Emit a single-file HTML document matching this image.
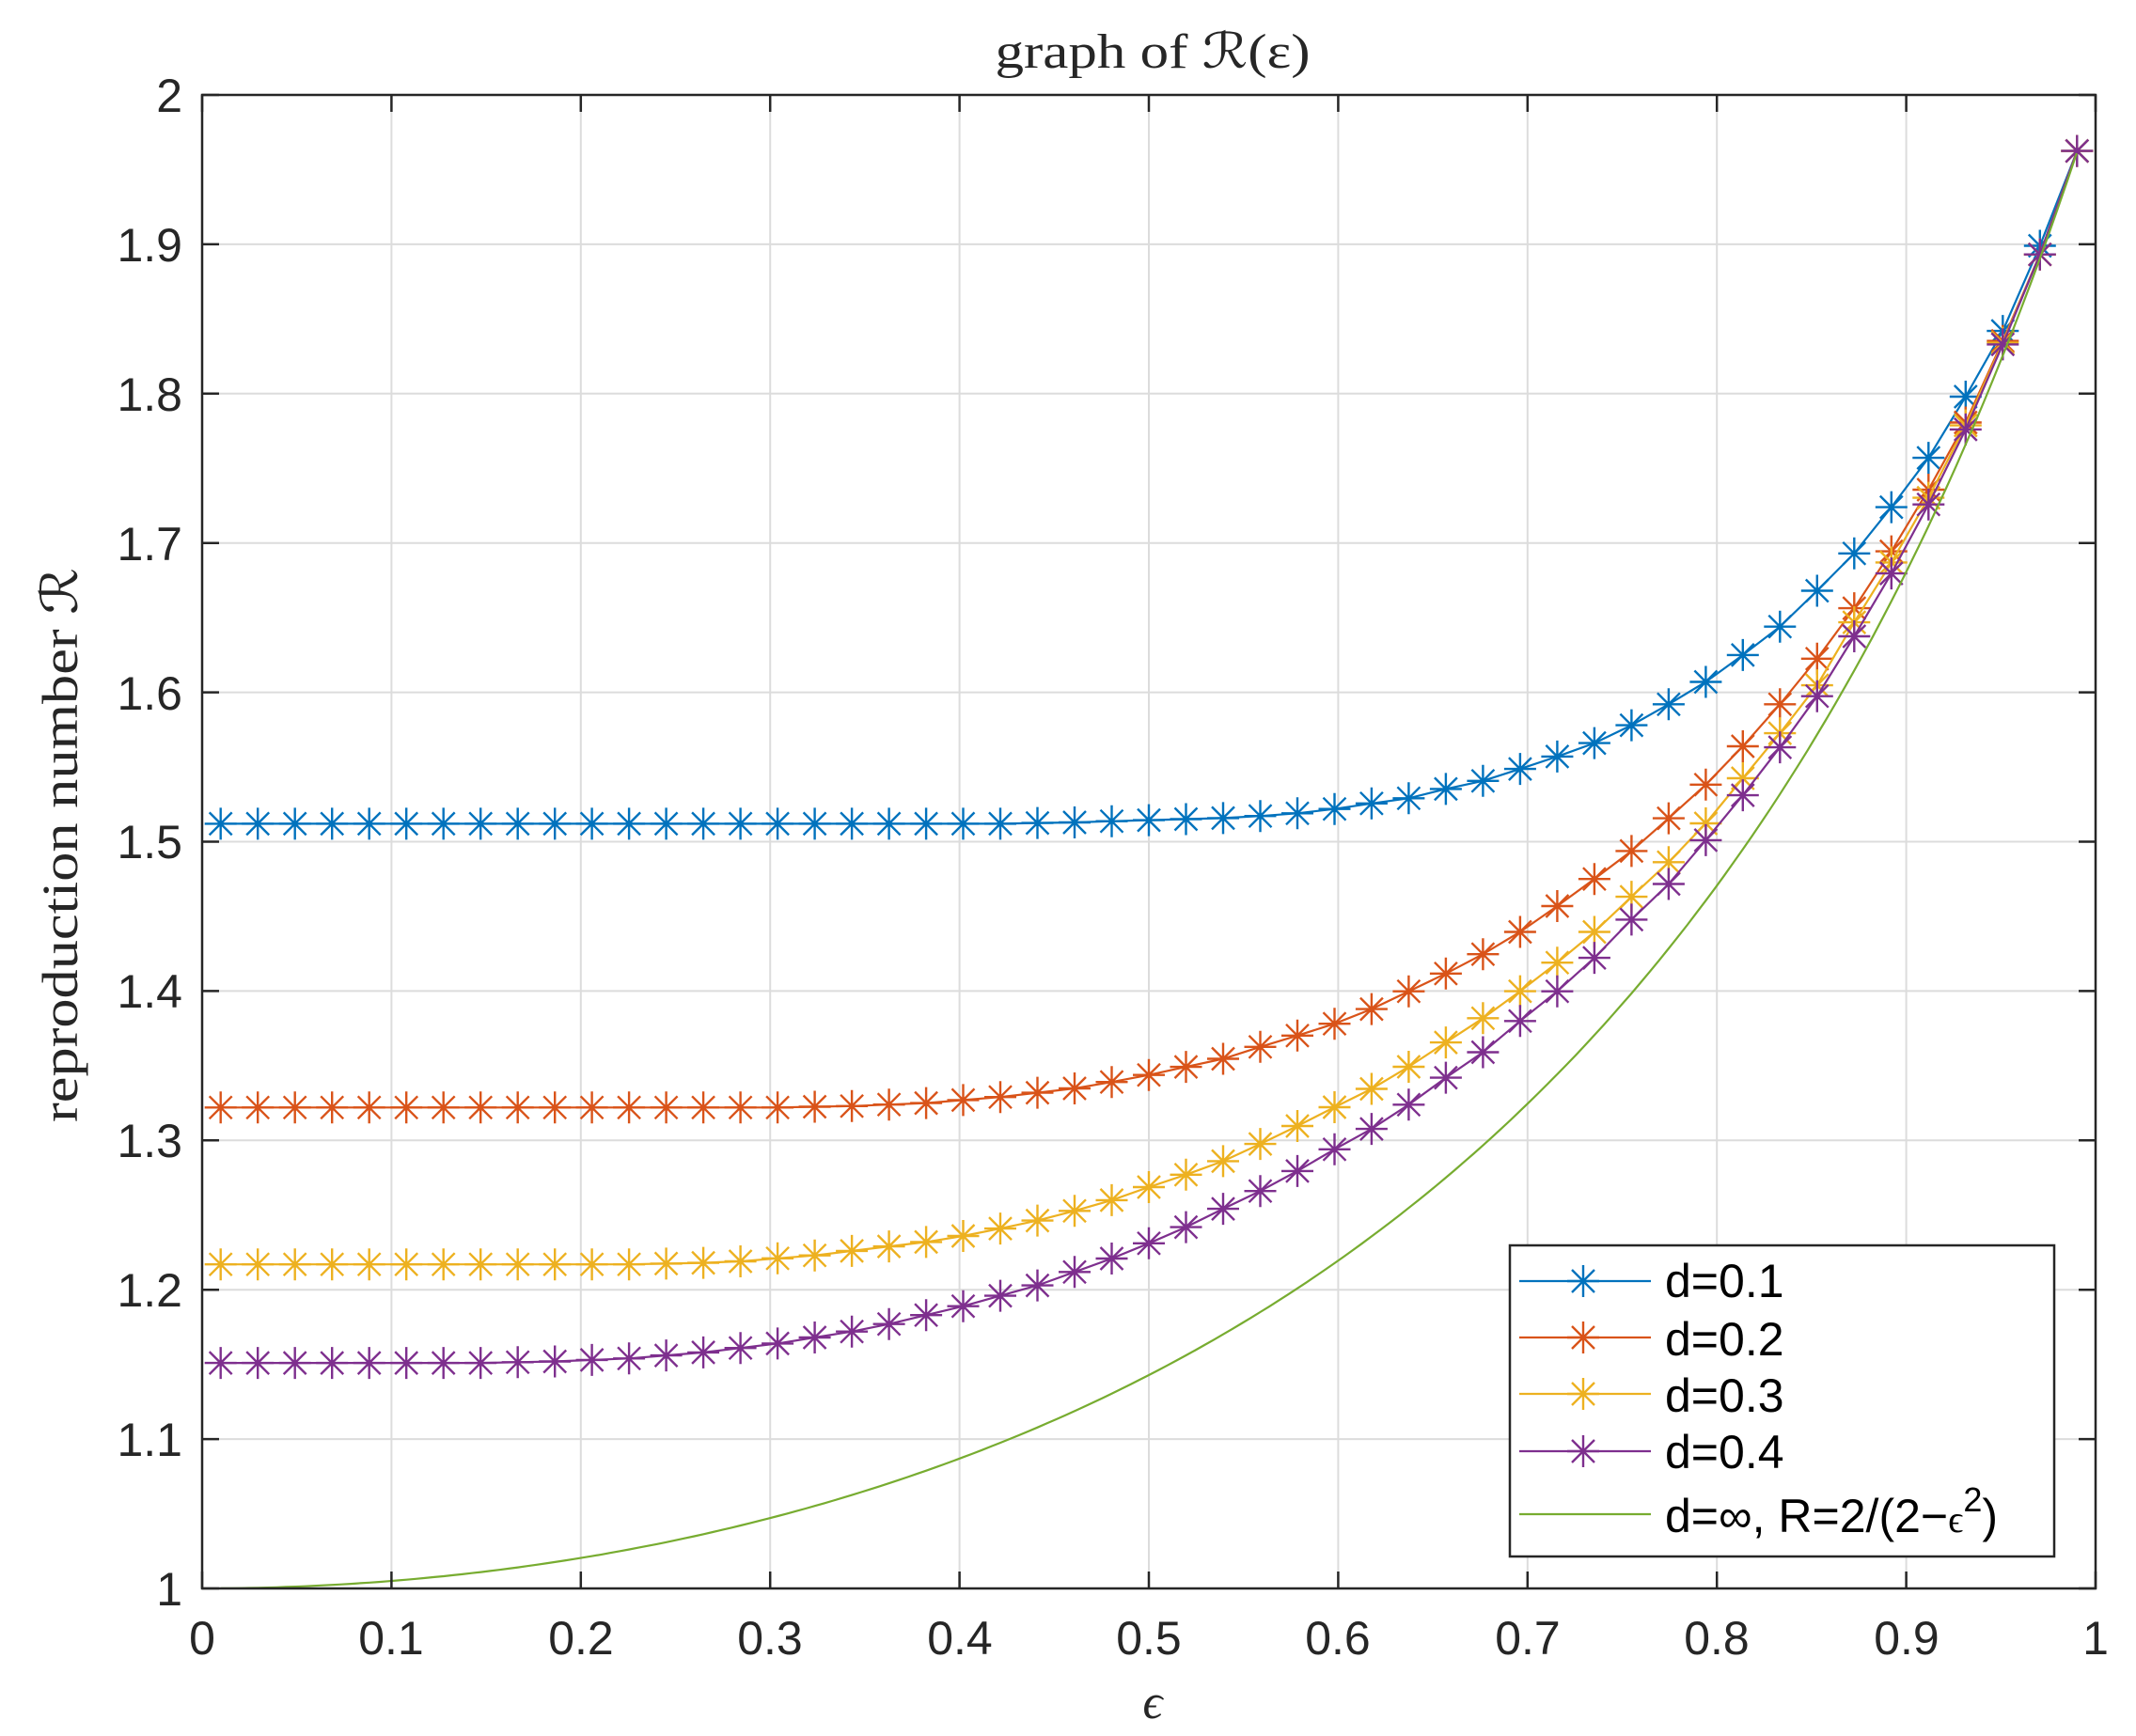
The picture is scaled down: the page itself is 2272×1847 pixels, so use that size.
<!DOCTYPE html>
<html><head><meta charset="utf-8">
<style>
html,body{margin:0;padding:0;background:#fff;}
svg{display:block;}
.tk{font-family:"Liberation Sans",sans-serif;font-size:50px;fill:#262626;}
.lg{font-family:"Liberation Sans","DejaVu Sans",sans-serif;font-size:50px;fill:#000;}
.sr{font-family:"Liberation Serif","DejaVu Serif",serif;fill:#262626;}
</style></head><body>
<svg id="s" width="2272" height="1847" viewBox="0 0 2272 1847" xmlns="http://www.w3.org/2000/svg">
<rect width="2272" height="1847" fill="#fff"/>
<g id="grid" stroke="#dcdcdc" stroke-width="2"></g>
<g id="data"></g>
<g id="axes" stroke="#262626" stroke-width="2.5" fill="none"></g>
<rect x="215" y="101" width="2014" height="1589" fill="none" stroke="#262626" stroke-width="2.5"/>
<g class="tk" text-anchor="end">
<text x="194" y="1708">1</text>
<text x="194" y="1549">1.1</text>
<text x="194" y="1390">1.2</text>
<text x="194" y="1231">1.3</text>
<text x="194" y="1072">1.4</text>
<text x="194" y="913">1.5</text>
<text x="194" y="755">1.6</text>
<text x="194" y="596">1.7</text>
<text x="194" y="437">1.8</text>
<text x="194" y="278">1.9</text>
<text x="194" y="119">2</text>
</g>
<g class="tk" text-anchor="middle">
<text x="215" y="1760">0</text>
<text x="416" y="1760">0.1</text>
<text x="618" y="1760">0.2</text>
<text x="819" y="1760">0.3</text>
<text x="1021" y="1760">0.4</text>
<text x="1222" y="1760">0.5</text>
<text x="1423" y="1760">0.6</text>
<text x="1625" y="1760">0.7</text>
<text x="1826" y="1760">0.8</text>
<text x="2028" y="1760">0.9</text>
<text x="2229" y="1760">1</text>
</g>
<text class="sr" x="1226" y="72" font-size="52" text-anchor="middle" textLength="335" lengthAdjust="spacingAndGlyphs">graph of ℛ(ε)</text>
<text class="sr" x="0" y="0" font-size="54" text-anchor="middle" transform="translate(82,899) rotate(-90)" textLength="590" lengthAdjust="spacingAndGlyphs">reproduction number ℛ</text>
<text class="sr" x="1226" y="1828" font-size="52" font-style="italic" text-anchor="middle">ϵ</text>
<rect x="1606" y="1325" width="579" height="331" fill="#fff" stroke="#262626" stroke-width="2.5"/>
<g id="leg"></g>
<g class="lg">
<text x="1771" y="1380">d=0.1</text>
<text x="1771" y="1442">d=0.2</text>
<text x="1771" y="1502">d=0.3</text>
<text x="1771" y="1562">d=0.4</text>
<text x="1771" y="1630">d=∞, R=2/(2−<tspan font-size="40" font-family="Liberation Serif,serif">ϵ</tspan><tspan font-size="36" dy="-22">2</tspan><tspan dy="22">)</tspan></text>
</g>
</svg>
<script>
var NS="http://www.w3.org/2000/svg";
function X(e){return 215+e*2014;}
function Y(r){return 1690-(r-1)*1589;}
function el(p,tag,a){var e=document.createElementNS(NS,tag);for(var k in a)e.setAttribute(k,a[k]);p.appendChild(e);return e;}
var g=document.getElementById('grid'),ax=document.getElementById('axes');
for(var i=1;i<10;i++){var x=X(i/10),y=Y(1+i/10);
el(g,'line',{x1:x,y1:101,x2:x,y2:1690});el(g,'line',{x1:215,y1:y,x2:2229,y2:y});}
for(var i=0;i<=10;i++){var x=X(i/10),y=Y(1+i/10);
el(ax,'line',{x1:x,y1:1690,x2:x,y2:1672});el(ax,'line',{x1:x,y1:101,x2:x,y2:119});
el(ax,'line',{x1:215,y1:y,x2:233,y2:y});el(ax,'line',{x1:2229,y1:y,x2:2211,y2:y});}
function fill(flat,n,head,mid,tail){var a=[];for(var i=0;i<n;i++)a.push(flat);return a.concat(head,mid,tail);}
var blue=fill(1.512,22,[],[1.5125,1.5129,1.5137,1.5144,1.5151,1.5158,1.5172,1.519,1.5219,1.5256,1.5291,1.5353,1.5407,1.5487,1.557,1.566,1.578],[1.592,1.607,1.625,1.644,1.668,1.693,1.724,1.757,1.798,1.842,1.899,1.9625]);
var red=fill(1.322,16,[1.3225,1.323,1.324,1.325,1.327,1.329],[1.3319,1.3348,1.3391,1.3438,1.3492,1.3546,1.3626,1.3702,1.3781,1.3879,1.3998,1.4117,1.4247,1.4396,1.4569,1.475,1.4938],[1.5157,1.5382,1.5639,1.592,1.6225,1.6563,1.6944,1.7357,1.7807,1.8353,1.8932,1.9625]);
var yel=fill(1.217,12,[1.2175,1.218,1.219,1.221,1.223,1.226,1.229,1.232,1.236,1.241],[1.2463,1.2528,1.26,1.2687,1.277,1.2861,1.2976,1.3096,1.3222,1.3345,1.3493,1.3656,1.3818,1.3999,1.419,1.4396,1.4631],[1.4863,1.5123,1.5425,1.5726,1.6047,1.6469,1.687,1.7303,1.7787,1.8341,1.8932,1.9625]);
var pur=fill(1.151,8,[1.1515,1.152,1.153,1.154,1.156,1.158,1.161,1.164,1.168,1.172,1.177,1.183,1.189,1.196],[1.2029,1.2119,1.2209,1.2311,1.2419,1.2542,1.2661,1.2795,1.294,1.3077,1.3239,1.342,1.359,1.3799,1.3998,1.4222,1.4478],[1.4717,1.501,1.5311,1.5632,1.5974,1.6375,1.6796,1.7258,1.776,1.833,1.8932,1.9625]);
var d=document.getElementById('data');
function star(x,y){var r=17,q=12;return 'M'+(x-r)+' '+y+'H'+(x+r)+'M'+x+' '+(y-r)+'V'+(y+r)+'M'+(x-q)+' '+(y-q)+'L'+(x+q)+' '+(y+q)+'M'+(x-q)+' '+(y+q)+'L'+(x+q)+' '+(y-q);}
function series(arr,col){var p='',m='';for(var k=0;k<arr.length&&k<51;k++){var e=(k+0.5)/51,x=X(e).toFixed(1),y=Y(arr[k]).toFixed(1);p+=(k?'L':'M')+x+' '+y;m+=star(+x,+y);}
el(d,'path',{d:p,stroke:col,'stroke-width':2.2,fill:'none'});el(d,'path',{d:m,stroke:col,'stroke-width':2.4,fill:'none'});}
series(blue,'#0072BD');series(red,'#D95319');series(yel,'#EDB120');series(pur,'#7E2F8E');
var p='';for(var i=0;i<=200;i++){var e=0.01+0.98*i/200;p+=(i?'L':'M')+X(e).toFixed(1)+' '+Y(2/(2-e*e)).toFixed(1);}
el(d,'path',{d:p,stroke:'#77AC30','stroke-width':2.2,fill:'none'});
var lg=document.getElementById('leg');var cols=['#0072BD','#D95319','#EDB120','#7E2F8E'],ly=[1363,1423,1483,1544];
for(var i=0;i<4;i++){el(lg,'line',{x1:1616,y1:ly[i],x2:1756,y2:ly[i],stroke:cols[i],'stroke-width':2.2});el(lg,'path',{d:star(1684,ly[i]),stroke:cols[i],'stroke-width':2.4,fill:'none'});}
el(lg,'line',{x1:1616,y1:1611,x2:1756,y2:1611,stroke:'#77AC30','stroke-width':2.2});
</script>
</body></html>
